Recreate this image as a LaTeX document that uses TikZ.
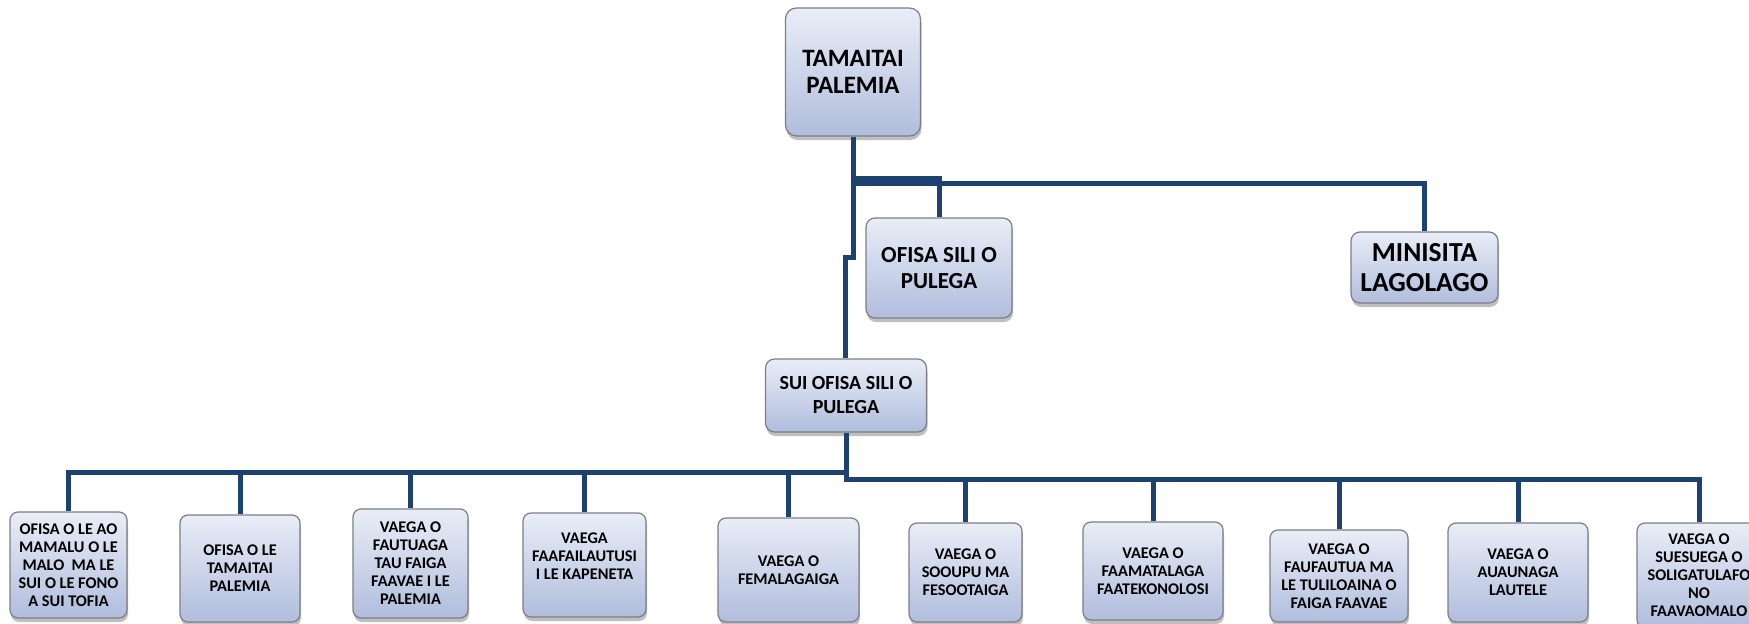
\documentclass[tikz,border=0pt]{standalone}
\usepackage{fontspec}
\setmainfont{Carlito}
\usetikzlibrary{shadows}
\definecolor{linec}{RGB}{30,66,112}
\definecolor{boxtop}{RGB}{233,237,247}
\definecolor{boxbot}{RGB}{176,189,220}
\definecolor{boxdraw}{RGB}{125,125,135}
\tikzset{
  conn/.style={draw=linec, line width=5pt},
  box/.style={rectangle, rounded corners=9pt, draw=boxdraw, line width=1.2pt,
    top color=boxtop, bottom color=boxbot, align=center, inner sep=1pt,
    font=\bfseries, text=black,
    drop shadow={shadow xshift=1pt, shadow yshift=-4pt, opacity=0.25, fill=black}},
  small/.style={box, font=\fontsize{16.3}{18}\selectfont\bfseries, rounded corners=8pt},
}
\begin{document}
\begin{tikzpicture}[x=1pt,y=-1pt]
\useasboundingbox (0,0) rectangle (1749,624);
% upper boxes
\node[box, minimum width=135pt, minimum height=128pt, font=\fontsize{25}{27}\selectfont\bfseries, rounded corners=11pt] (top) at (853,72) {TAMAITAI\\PALEMIA};
\node[box, minimum width=146pt, minimum height=100pt, font=\fontsize{23}{26}\selectfont\bfseries] (ofisa) at (939,268) {OFISA SILI O\\PULEGA};
\node[box, minimum width=147pt, minimum height=71pt, font=\fontsize{27.5}{30}\selectfont\bfseries] (min) at (1424.5,267.5) {MINISITA\\LAGOLAGO};
\node[box, minimum width=161pt, minimum height=73pt, font=\fontsize{20}{24}\selectfont\bfseries] (sui) at (846,395.5) {SUI OFISA SILI O\\PULEGA};
% bottom boxes
\node[small, minimum width=117pt, minimum height=106pt] (b1) at (68.5,565) {OFISA O LE AO\\MAMALU O LE\\MALO~ MA LE\\SUI O LE FONO\\A SUI TOFIA};
\node[small, minimum width=120pt, minimum height=107pt] (b2) at (240,568.5) {OFISA O LE\\TAMAITAI\\PALEMIA};
\node[small, minimum width=115pt, minimum height=109pt] (b3) at (410.5,563.5) {VAEGA O\\FAUTUAGA\\TAU FAIGA\\FAAVAE I LE\\PALEMIA};
\node[small, minimum width=123pt, minimum height=104pt] (b4) at (584.5,565) {VAEGA\\FAAFAILAUTUSI\\I LE KAPENETA\\\mbox{}};
\node[small, minimum width=141pt, minimum height=104pt] (b5) at (788.5,570) {VAEGA O\\FEMALAGAIGA};
\node[small, minimum width=113pt, minimum height=99pt] (b6) at (965.5,572.5) {VAEGA O\\SOOUPU MA\\FESOOTAIGA};
\node[small, minimum width=140pt, minimum height=98pt] (b7) at (1153,571) {VAEGA O\\FAAMATALAGA\\FAATEKONOLOSI};
\node[small, minimum width=138pt, minimum height=92pt] (b8) at (1339,576) {VAEGA O\\FAUFAUTUA MA\\LE TULILOAINA O\\FAIGA FAAVAE};
\node[small, minimum width=140pt, minimum height=99pt] (b9) at (1518,572.5) {VAEGA O\\AUAUNAGA\\LAUTELE};
\node[small, minimum width=124pt, minimum height=105pt] (b10) at (1699,575.5) {VAEGA O\\SUESUEGA O\\SOLIGATULAFO\\NO\\FAAVAOMALO};
% connectors top
\coordinate (t1) at (853,178);
\coordinate (t2) at (853,183);
\coordinate (k1) at (853,257);
\coordinate (k2) at (845,257);
\draw[conn] (top.south) -- (k1) -- (k2) -- (k2 |- sui.north);
\draw[conn] (t1) -| (ofisa.north);
\draw[conn] (t2) -| (min.north);
% buses
\coordinate (jL) at (846,472);
\coordinate (jR) at (846,479);
\draw[conn] (sui.south) -- ([yshift=-2.5pt]jR);
\foreach \b in {b1,b2,b3,b4,b5}{\draw[conn] (jL) -| (\b.north);}
\foreach \b in {b6,b7,b8,b9,b10}{\draw[conn] (jR) -| (\b.north);}
\end{tikzpicture}
\end{document}
